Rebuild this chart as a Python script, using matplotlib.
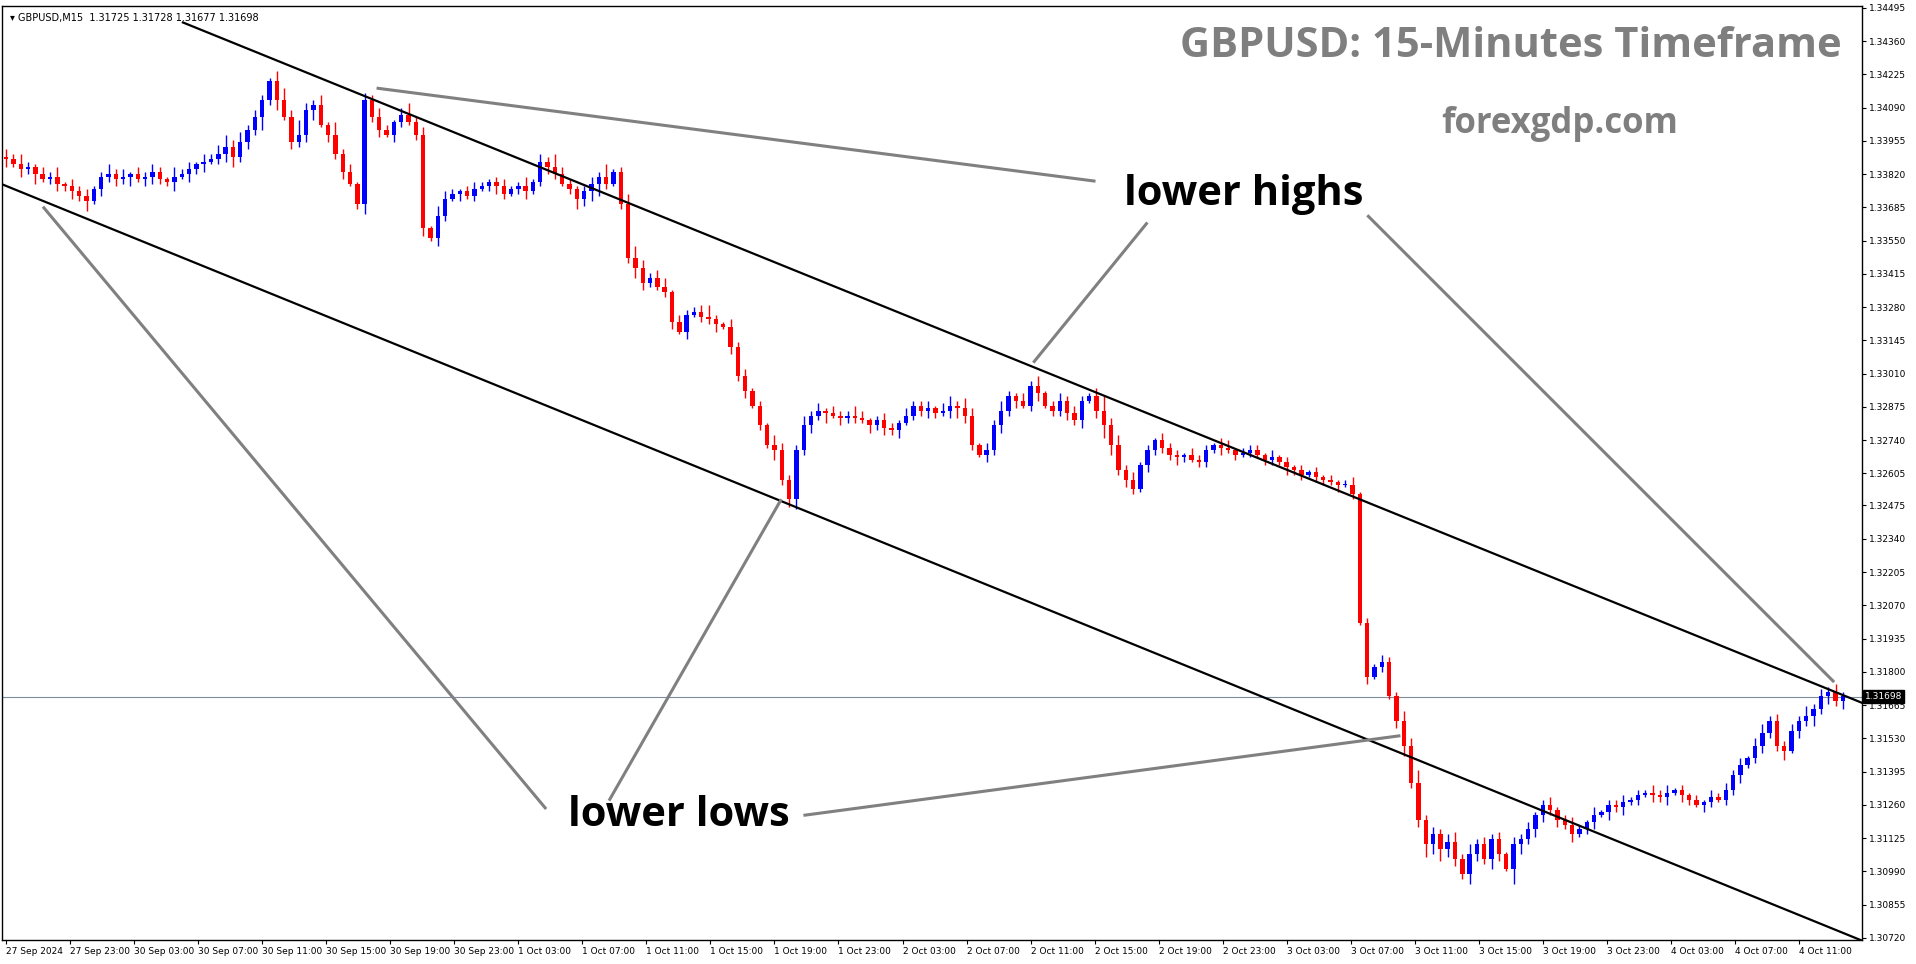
import matplotlib
matplotlib.use("Agg")
import matplotlib.pyplot as plt
import numpy as np

# closes in pips above 1.30000 (15-min candles, sampled)
closes = [388,386,384,385,382,380,381,378,377,375,373,371,376,381,382,380,381,382,380,381,
          383,380,379,381,382,384,386,387,388,390,393,389,395,400,405,412,420,412,405,395,
          398,408,410,402,398,390,383,378,370,412,405,400,398,403,406,403,398,360,356,365,
          372,374,375,373,376,377,379,377,374,376,377,375,379,387,385,382,378,376,372,375,
          378,381,378,383,370,348,344,338,340,336,334,322,318,325,326,324,323,321,320,312,
          300,294,288,280,272,270,258,250,270,280,284,286,285,284,283,284,283,282,280,282,
          279,278,281,284,288,286,287,285,286,288,287,284,272,268,270,280,286,292,290,288,
          296,293,288,286,290,285,282,290,292,286,280,272,262,258,254,264,270,274,271,268,
          267,268,266,265,270,272,271,270,268,269,270,268,266,267,265,263,262,260,261,259,
          258,257,256,256,252,200,178,182,184,170,160,150,135,120,110,114,108,111,104,98,
          106,110,104,112,106,100,110,112,116,122,126,124,120,118,114,116,119,122,123,126,
          125,127,128,130,131,130,129,131,132,130,128,126,127,129,128,132,138,142,145,150,
          155,160,150,148,156,160,162,165,170,172,168,170]
wick_up = ("3242132413" "2312423132" "3214231324" "5342321453" "6324152313" "2421352314"
           "3212321231" "2413253212" "3251245323" "4132235213" "2312143224" "2313224312"
           "3213223134" "2431324213" "2412323213" "6342312132" "2132213312" "2213121212"
           "1212312132" "2435232342" "4232313231" "2312321312" "2312132312" "1213232313"
           "4232324232" "3232323232")
wick_dn = ("3132412323" "2413232413" "3224132312" "3423252413" "2341323124" "2313212313"
           "2131212321" "2312321243" "4521224321" "2313122313" "2312142342" "3241322132"
           "3231223213" "4321323231" "2312232313" "5423213222" "3212213121" "2122132212"
           "2131213121" "3423545332" "4324316423" "3232312313" "2312132313" "2132122312"
           "3224132423" "2323232323")
first_open = 389

ytick_vals = [1.30720,1.30855,1.30990,1.31125,1.31260,1.31395,1.31530,1.31665,1.31800,1.31935,
              1.32070,1.32205,1.32340,1.32475,1.32605,1.32740,1.32875,1.33010,1.33145,1.33280,
              1.33415,1.33550,1.33685,1.33820,1.33955,1.34090,1.34225,1.34360,1.34495]
xtick_labels = ["27 Sep 2024","27 Sep 23:00","30 Sep 03:00","30 Sep 07:00","30 Sep 11:00",
                "30 Sep 15:00","30 Sep 19:00","30 Sep 23:00","1 Oct 03:00","1 Oct 07:00",
                "1 Oct 11:00","1 Oct 15:00","1 Oct 19:00","1 Oct 23:00","2 Oct 03:00",
                "2 Oct 07:00","2 Oct 11:00","2 Oct 15:00","2 Oct 19:00","2 Oct 23:00",
                "3 Oct 03:00","3 Oct 07:00","3 Oct 11:00","3 Oct 15:00","3 Oct 19:00",
                "3 Oct 23:00","4 Oct 03:00","4 Oct 07:00","4 Oct 11:00"]
last_price = 1.31698

n = len(closes)
c = 1.3 + np.array(closes) / 10000.0
o = np.concatenate([[1.3 + first_open / 10000.0], c[:-1]])
wu = np.array([int(ch) for ch in wick_up[:n]]) / 10000.0
wd = np.array([int(ch) for ch in wick_dn[:n]]) / 10000.0
hi = np.maximum(o, c) + wu
lo = np.minimum(o, c) - wd

fig = plt.figure(figsize=(19.16, 9.64), dpi=100)
W, H = 1571.0, 790.0
ax = fig.add_axes([2/W, 1 - 770/H, 1525/W, 765/H])
x = np.arange(n)
up = c >= o
col = np.where(up, "#0000ff", "#ff0000")
ax.vlines(x, lo, hi, colors=col, linewidth=1.0, zorder=2)
body = np.abs(c - o)
body = np.maximum(body, 0.00003)
ax.bar(x, body, bottom=np.minimum(o, c), width=0.6, color=col, linewidth=0, zorder=3)

def px2d(px, py):
    return (px - 5) / 6.0, 1.3 + (449.5 - 0.495 * (py - 6)) / 10000.0

ax.set_xlim(-0.5, (1527 - 5) / 6.0)
ax.set_ylim(1.3 + 71.3/10000, 1.3 + 450.2/10000)

for p1, p2 in [((150, 18), (1527, 576)), ((0, 150), (1527, 771))]:
    a, b = px2d(*p1), px2d(*p2)
    ax.plot([a[0], b[0]], [a[1], b[1]], color="black", lw=1.6, zorder=4)
for p1, p2 in [((310, 72), (897, 148)), ((940, 183), (848, 296)), ((1122, 177), (1503, 558)),
               ((447, 662), (36, 170)), ((500, 655), (640, 410)), ((660, 668), (1147, 603))]:
    a, b = px2d(*p1), px2d(*p2)
    ax.plot([a[0], b[0]], [a[1], b[1]], color="#808080", lw=2.2, zorder=4, clip_on=False)

ax.axhline(last_price, color="#7f8c99", lw=0.8, zorder=1)

ax.yaxis.tick_right()
ax.set_yticks(ytick_vals)
ax.set_yticklabels([f"{v:.5f}" for v in ytick_vals], fontsize=6.5, family="DejaVu Sans")
xt = [(5 + 52.5 * i - 5) / 6.0 for i in range(len(xtick_labels))]
ax.set_xticks(xt)
ax.set_xticklabels(xtick_labels, fontsize=6.5, ha="left")
ax.tick_params(axis="both", length=3, pad=2)
for s in ax.spines.values():
    s.set_linewidth(1.0)

ax.text(1 + 2/1525, last_price, "1.31698", transform=ax.get_yaxis_transform(),
        fontsize=6.5, color="white", va="center", ha="left",
        bbox=dict(facecolor="black", edgecolor="black", pad=1.5), zorder=10, clip_on=False)

ax.text(0.004, 0.993, "\u25BE GBPUSD,M15  1.31725 1.31728 1.31677 1.31698", transform=ax.transAxes,
        fontsize=7, va="top", ha="left")

tk = dict(family="Open Sans", fontweight="bold")
ax.text(1508/1525, 1 - 33/765, "GBPUSD: 15-Minutes Timeframe", transform=ax.transAxes,
        fontsize=30, color="#7f7f7f", ha="right", va="center", **tk)
ax.text(1277/1525, 1 - 97/765, "forexgdp.com", transform=ax.transAxes,
        fontsize=25, color="#7f7f7f", ha="center", va="center", **tk)
ax.text(1018/1525, 1 - 154/765, "lower highs", transform=ax.transAxes,
        fontsize=30, color="black", ha="center", va="center", **tk)
ax.text(555/1525, 1 - 663/765, "lower lows", transform=ax.transAxes,
        fontsize=30, color="black", ha="center", va="center", **tk)

fig.savefig("out.png", dpi=100, facecolor="white")
